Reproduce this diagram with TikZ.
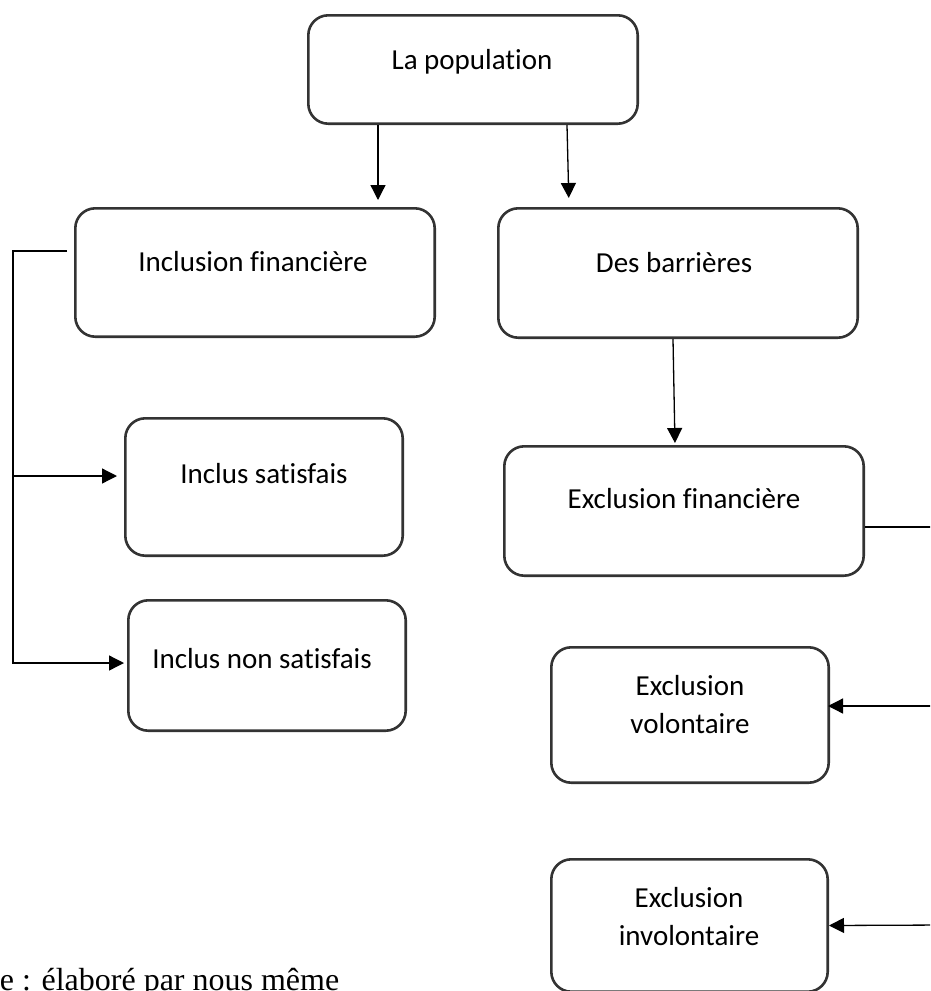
\documentclass[tikz,border=0pt]{standalone}
\usepackage{fontspec}
\setmainfont{Carlito}[Ligatures=NoCommon]
\newfontfamily\srcfont{Liberation Serif}
\usetikzlibrary{arrows.meta,calc}
\tikzset{
  box/.style={draw=black!80, line width=2.6pt, rounded corners=20pt, inner sep=0pt},
  lbl/.style={anchor=base, inner sep=0pt, font=\fontsize{29}{35}\selectfont},
  conn/.style={draw=black, line width=1.3pt},
  arr/.style={conn, -{Triangle[length=15pt,width=15pt]}},
}
\begin{document}
\begin{tikzpicture}[x=1pt,y=-1pt]
\useasboundingbox (0,0) rectangle (930,991);
\clip (0,0) rectangle (930,991);
% boxes
\node[box, minimum width=329.4pt, minimum height=108.4pt] (pop) at (473,69.5) {};
\node[box, minimum width=359.4pt, minimum height=128.4pt] (incl) at (255,272.5) {};
\node[box, minimum width=359.4pt, minimum height=129.4pt] (barr) at (678,273) {};
\node[box, minimum width=277.4pt, minimum height=137.4pt] (sat) at (264,487) {};
\node[box, minimum width=277.4pt, minimum height=130.4pt] (nonsat) at (267,665.5) {};
\node[box, minimum width=359.4pt, minimum height=129.4pt] (exfin) at (684,511) {};
\node[box, minimum width=277.4pt, minimum height=135.4pt] (vol) at (690,715) {};
\node[box, minimum width=276.4pt, minimum height=132.4pt] (invol) at (689.5,925.5) {};
% texts
\node[lbl] (tpop) at (472,69) {La population};
\node[lbl] (tincl) at (253,271) {Inclusion financière};
\node[lbl] (tbarr) at (674,272) {Des barrières};
\node[lbl] (tsat) at (264,483) {Inclus satisfais};
\node[lbl] (tnonsat) at (262,668) {Inclus non satisfais};
\node[lbl] (texfin) at (684,508) {Exclusion financière};
\node[lbl] (tvol1) at (690,695) {Exclusion};
\node[lbl] (tvol2) at (690,733) {volontaire};
\node[lbl] (tinv1) at (689,907) {Exclusion};
\node[lbl] (tinv2) at (689,945) {involontaire};
\node[anchor=base west, inner sep=0pt, font=\srcfont\fontsize{32}{38}\selectfont] (src) at (-75,990) {Source : élaboré par nous même};
% top connectors
\draw[arr, shorten >=7pt] ($(pop.south)+(-95,0)$) -- ($(incl.north)+(123,0)$);
\draw[arr, shorten >=9pt] ($(pop.south)+(94,0)$) -- ($(barr.north)+(-109,0)$);
\draw[arr, shorten >=2pt] ($(barr.south)+(-5,0)$) -- ($(exfin.north)+(-9,0)$);
% left bracket
\coordinate (lt) at (13,251);
\coordinate (lm) at (13,476);
\coordinate (lb) at (13,663);
\draw[arr] ($(incl.west)+(-7,-21.5)$) -- (lt) -- (lb) -- ($(nonsat.west)+(-3,-2.5)$);
\draw[arr] (lm) -- ($(sat.west)+(-7,-11)$);
% right side
\coordinate (r1) at (945,527);
\coordinate (r2) at (945,706);
\coordinate (r3) at (945,925);
\draw[conn] ($(exfin.east)+(0,16)$) -- (r1);
\draw[arr] (r2) -- ($(vol.east)+(-2,-9)$);
\draw[arr] (r3) -- (invol.east);
\end{tikzpicture}
\end{document}
